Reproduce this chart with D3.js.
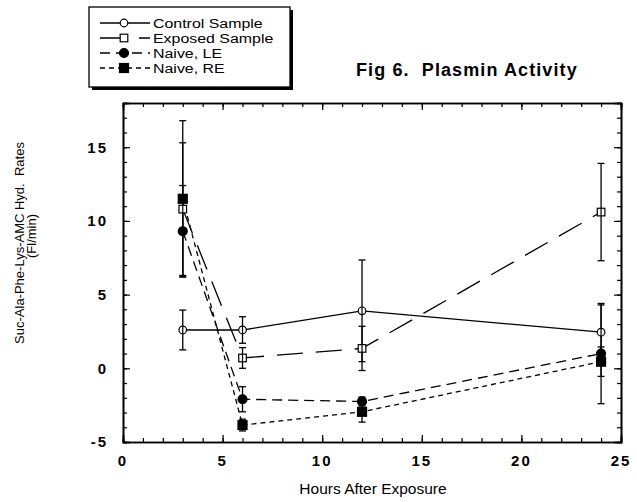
<!DOCTYPE html>
<html>
<head>
<meta charset="utf-8">
<title>Fig 6. Plasmin Activity</title>
<script src="https://cdn.jsdelivr.net/npm/d3@7/dist/d3.min.js"></script>
<style>
  body { margin: 0; background: #fff; }
  svg { font-family: "Liberation Sans", Arial, Helvetica, sans-serif; }
  .frame line, .frame path { stroke: #000; }
</style>
</head>
<body>
<svg width="637" height="502"></svg>
<script>
// data
var hours = [3, 6, 12, 24];
var control = [2.6, 2.6, 3.9, 2.45];
var controlErr = [1.35, 0.9, 3.45, 1.85];
var exposed = [10.8, 0.7, 1.35, 10.6];
var exposedErr = [4.5, 0.7, 1.5, 3.3];
var naiveLE = [9.3, -2.1, -2.25, 1.0];
var naiveLEErr = [3.1, 0.85, 0.3, 3.4];
var naiveRE = [11.5, -3.85, -2.95, 0.45];
var naiveREErr = [5.3, 0.4, 0.7, 1.0];

var xTicks = [0, 5, 10, 15, 20, 25];
var yTicks = [-5, 0, 5, 10, 15];

var series = [
  { name: "Control Sample", values: control, err: controlErr, dash: null, marker: "circle", fill: "#fff" },
  { name: "Exposed Sample", values: exposed, err: exposedErr, dash: "26,13", marker: "square", fill: "#fff" },
  { name: "Naive, LE", values: naiveLE, err: naiveLEErr, dash: "10,6", marker: "circle", fill: "#000" },
  { name: "Naive, RE", values: naiveRE, err: naiveREErr, dash: "5,4", marker: "square", fill: "#000" }
];

var svg = d3.select("svg");
var margin = { left: 123, top: 103, right: 16, bottom: 60 };
var width = 637 - margin.left - margin.right;
var height = 502 - margin.top - margin.bottom;

var x = d3.scaleLinear().domain([0, 25]).range([0, width]);
var y = d3.scaleLinear().domain([-5, 18]).range([height, 0]);

var g = svg.append("g").attr("transform", "translate(" + margin.left + "," + margin.top + ")");

// frame with inward ticks on all four sides
var frame = g.append("g").attr("class", "frame");
var xMinor = d3.range(0, 26, 1);
var yMinor = d3.range(-5, 19, 1);

function tickSet(axis, vals, len) {
  return axis.tickValues(vals).tickSize(len).tickFormat("");
}
frame.append("g").attr("transform", "translate(0," + height + ")")
  .call(tickSet(d3.axisTop(x), xMinor, 4));
frame.append("g").attr("transform", "translate(0," + height + ")")
  .call(tickSet(d3.axisTop(x), xTicks, 7));
frame.append("g").call(tickSet(d3.axisBottom(x), xMinor, 4));
frame.append("g").call(tickSet(d3.axisBottom(x), xTicks, 7));
frame.append("g").call(tickSet(d3.axisRight(y), yMinor, 4));
frame.append("g").call(tickSet(d3.axisRight(y), yTicks, 7));
frame.append("g").attr("transform", "translate(" + width + ",0)")
  .call(tickSet(d3.axisLeft(y), yMinor, 4));
frame.append("g").attr("transform", "translate(" + width + ",0)")
  .call(tickSet(d3.axisLeft(y), yTicks, 7));
frame.selectAll("path.domain").attr("stroke-width", 1.6);
frame.selectAll(".tick line").attr("stroke-width", 1.2);

// tick labels
g.selectAll(".xlab").data(xTicks).enter().append("text")
  .attr("x", function(d) { return x(d); })
  .attr("y", height + 24)
  .attr("text-anchor", "middle")
  .attr("font-size", 15)
  .attr("letter-spacing", 2)
  .attr("font-weight", "bold")
  .text(function(d) { return d; });

g.selectAll(".ylab").data(yTicks).enter().append("text")
  .attr("x", -15)
  .attr("y", function(d) { return y(d); })
  .attr("dy", "0.36em")
  .attr("text-anchor", "end")
  .attr("font-size", 15)
  .attr("letter-spacing", 2)
  .attr("font-weight", "bold")
  .text(function(d) { return d; });

// axis titles
svg.append("text")
  .attr("x", 373).attr("y", 494)
  .attr("text-anchor", "middle")
  .attr("font-size", 15.5)
  .text("Hours After Exposure");

svg.append("text")
  .attr("transform", "translate(24,243) rotate(-90)")
  .attr("text-anchor", "middle")
  .attr("font-size", 13)
  .attr("xml:space", "preserve")
  .text("Suc-Ala-Phe-Lys-AMC Hyd.  Rates");
svg.append("text")
  .attr("transform", "translate(36,236) rotate(-90)")
  .attr("text-anchor", "middle")
  .attr("font-size", 13)
  .text("(Fl/min)");

// title
svg.append("text")
  .attr("x", 356).attr("y", 76)
  .attr("font-size", 18)
  .attr("font-weight", "bold")
  .attr("letter-spacing", 1.1)
  .attr("xml:space", "preserve")
  .text("Fig 6.  Plasmin Activity");

// lines
var line = d3.line()
  .x(function(d) { return x(d[0]); })
  .y(function(d) { return y(d[1]); });

series.forEach(function(s) {
  var pts = hours.map(function(h, i) { return [h, s.values[i]]; });
  g.append("path")
    .datum(pts)
    .attr("d", line)
    .attr("fill", "none")
    .attr("stroke", "#000")
    .attr("stroke-width", 1.3)
    .attr("stroke-dasharray", s.dash);
});

// error bars
series.forEach(function(s) {
  var eb = g.append("g").attr("stroke", "#000").attr("stroke-width", 1.3);
  hours.forEach(function(h, i) {
    var cx = x(h), lo = y(s.values[i] - s.err[i]), hi = y(s.values[i] + s.err[i]);
    eb.append("line").attr("x1", cx).attr("x2", cx).attr("y1", lo).attr("y2", hi);
    eb.append("line").attr("x1", cx - 3.5).attr("x2", cx + 3.5).attr("y1", lo).attr("y2", lo);
    eb.append("line").attr("x1", cx - 3.5).attr("x2", cx + 3.5).attr("y1", hi).attr("y2", hi);
  });
});

function drawMarker(sel, s, cx, cy) {
  if (s.marker === "circle") {
    sel.append("circle").attr("cx", cx).attr("cy", cy)
      .attr("r", s.fill === "#000" ? 4.5 : 3.8)
      .attr("fill", s.fill).attr("stroke", "#000").attr("stroke-width", 1.2);
  } else {
    var r = s.fill === "#000" ? 4.5 : 3.8;
    sel.append("rect").attr("x", cx - r).attr("y", cy - r)
      .attr("width", 2 * r).attr("height", 2 * r)
      .attr("fill", s.fill).attr("stroke", "#000").attr("stroke-width", 1.2);
  }
}

series.forEach(function(s) {
  var mk = g.append("g");
  hours.forEach(function(h, i) {
    drawMarker(mk, s, x(h), y(s.values[i]));
    if (s.fill === "#fff") {
      // open markers show the error bar through them
      mk.append("line").attr("x1", x(h)).attr("x2", x(h))
        .attr("y1", y(s.values[i]) - 3.8).attr("y2", y(s.values[i]) + 3.8)
        .attr("stroke", "#000").attr("stroke-width", 1.2);
    }
  });
});

// legend with drop shadow
var lg = svg.append("g");
lg.append("rect").attr("x", 92).attr("y", 10).attr("width", 201).attr("height", 80).attr("fill", "#000");
lg.append("rect").attr("x", 89).attr("y", 7).attr("width", 201).attr("height", 80)
  .attr("fill", "#fff").attr("stroke", "#000").attr("stroke-width", 1.3);

series.forEach(function(s, i) {
  var ly = 23 + i * 15;
  lg.append("line").attr("x1", 100).attr("x2", 150).attr("y1", ly).attr("y2", ly)
    .attr("stroke", "#000").attr("stroke-width", 1.3).attr("stroke-dasharray", s.dash);
  drawMarker(lg, s, 124, ly);
  lg.append("text")
    .attr("transform", "translate(153," + ly + ") scale(1.18,1)")
    .attr("dy", "0.36em")
    .attr("font-size", 13.5)
    .text(s.name);
});
</script>
</body>
</html>
